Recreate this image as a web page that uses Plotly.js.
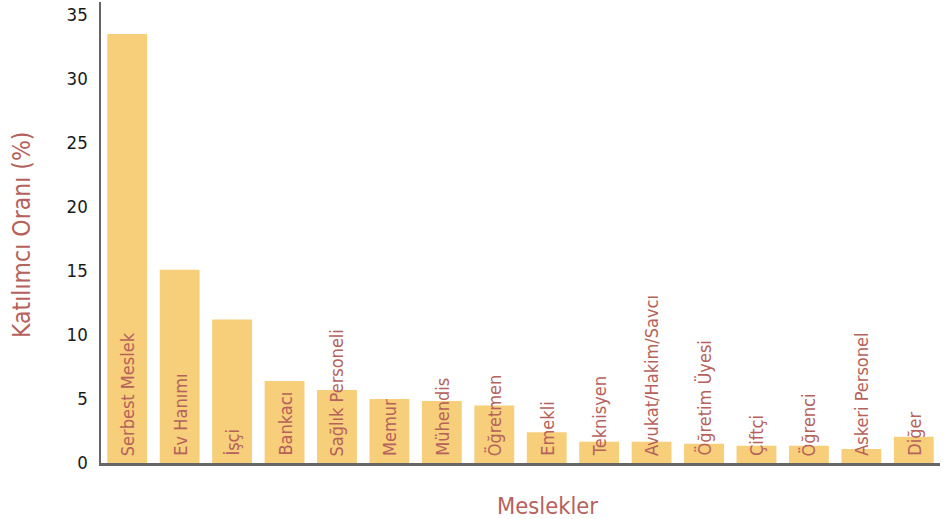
<!DOCTYPE html>
<html>
<head>
<meta charset="utf-8">
<script src="https://cdn.plot.ly/plotly-3.0.1.min.js"></script>
<style>html,body{margin:0;padding:0;background:#fff;}#chart{width:944px;height:519px;}</style>
</head>
<body>
<div id="chart"></div>
<script>
const categories = ["Serbest Meslek","Ev Hanımı","İşçi","Bankacı","Sağlık Personeli","Memur","Mühendis","Öğretmen","Emekli","Teknisyen","Avukat/Hakim/Savcı","Öğretim Üyesi","Çiftçi","Öğrenci","Askeri Personel","Diğer"];
const values = [33.5, 15.1, 11.2, 6.4, 5.7, 5.0, 4.85, 4.5, 2.4, 1.65, 1.65, 1.5, 1.35, 1.35, 1.1, 2.05];
const yTicks = [0, 5, 10, 15, 20, 25, 30, 35];
const xTitle = "Meslekler";
const yTitle = "Katılımcı Oranı (%)";

const FONT = "DejaVu Sans Condensed, DejaVu Sans, sans-serif";
const LABEL = "#b5625c";

const trace = {
  type: "bar",
  x: categories,
  y: values,
  marker: {color: "#f7ce7a"},
  hoverinfo: "x+y"
};

const annotations = categories.map(c => ({
  x: c, y: 0, xref: "x", yref: "y",
  text: c, showarrow: false, textangle: -90,
  xanchor: "center", yanchor: "bottom", yshift: 5,
  font: {family: FONT, size: 18, color: LABEL}
}));
annotations.push({
  xref: "paper", yref: "paper", x: 0.532, y: -0.093,
  text: xTitle, showarrow: false, xanchor: "center", yanchor: "middle",
  font: {family: FONT, size: 23.5, color: LABEL}
});
annotations.push({
  xref: "paper", yref: "paper", x: -0.094, y: 0.495,
  text: yTitle, showarrow: false, textangle: -90, xanchor: "center", yanchor: "middle",
  font: {family: FONT, size: 24.5, color: LABEL}
});

const layout = {
  width: 944, height: 519,
  margin: {l: 101, r: 4, t: 2, b: 56},
  paper_bgcolor: "#fff", plot_bgcolor: "#fff",
  bargap: 0.24,
  showlegend: false,
  xaxis: {
    showticklabels: false, showgrid: false, zeroline: false,
    showline: true, linecolor: "#666", linewidth: 2.5, ticks: ""
  },
  yaxis: {
    range: [0, 36], tickvals: yTicks, ticktext: yTicks.map(String),
    showgrid: false, zeroline: false, showline: true, linecolor: "#666", linewidth: 2.5,
    ticks: "", ticklen: 0, ticklabelstandoff: 7,
    tickfont: {family: FONT, size: 18.5, color: "#1a1a1a"}
  },
  annotations: annotations,
  font: {family: FONT}
};

Plotly.newPlot("chart", [trace], layout, {displayModeBar: false, staticPlot: true});
</script>
</body>
</html>
